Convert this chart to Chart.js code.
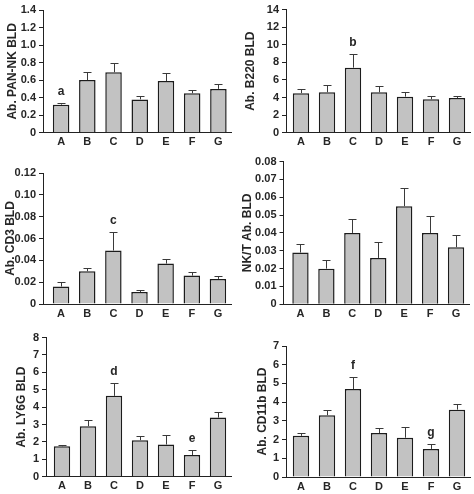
<!DOCTYPE html>
<html>
<head>
<meta charset="utf-8">
<script src="https://cdn.jsdelivr.net/npm/chart.js@4/dist/chart.umd.min.js"></script>
<style>
	body { margin: 0; background: #fff; }
	#wrap { position: relative; width: 474px; height: 494px; overflow: hidden; }
	canvas { position: absolute; }
</style>
</head>
<body>
<div id="wrap"></div>
<script>
const groups = ['A', 'B', 'C', 'D', 'E', 'F', 'G'];

const panNkMean = [0.32, 0.6, 0.69, 0.38, 0.59, 0.45, 0.5];
const panNkTop = [0.34, 0.69, 0.8, 0.42, 0.68, 0.49, 0.55];
const panNkLetters = ['a', '', '', '', '', '', ''];
const panNkTicks = ['0', '0.2', '0.4', '0.6', '0.8', '1.0', '1.2', '1.4'];

const b220Mean = [4.5, 4.6, 7.4, 4.6, 4.1, 3.8, 3.95];
const b220Top = [4.95, 5.4, 8.9, 5.3, 4.6, 4.15, 4.15];
const b220Letters = ['', '', 'b', '', '', '', ''];
const b220Ticks = ['0', '2', '4', '6', '8', '10', '12', '14'];

const cd3Mean = [0.016, 0.03, 0.049, 0.011, 0.037, 0.026, 0.023];
const cd3Top = [0.02, 0.033, 0.066, 0.013, 0.041, 0.029, 0.026];
const cd3Letters = ['', '', 'c', '', '', '', ''];
const cd3Ticks = ['0', '0.02', '0.04', '0.06', '0.08', '0.10', '0.12'];

const nktMean = [0.029, 0.02, 0.04, 0.026, 0.055, 0.04, 0.032];
const nktTop = [0.034, 0.025, 0.048, 0.035, 0.065, 0.0495, 0.039];
const nktLetters = ['', '', '', '', '', '', ''];
const nktTicks = ['0', '0.01', '0.02', '0.03', '0.04', '0.05', '0.06', '0.07', '0.08'];

const ly6gMean = [1.75, 2.9, 4.65, 2.1, 1.85, 1.25, 3.4];
const ly6gTop = [1.85, 3.25, 5.4, 2.35, 2.4, 1.55, 3.7];
const ly6gLetters = ['', '', 'd', '', '', 'e', ''];
const ly6gTicks = ['0', '1', '2', '3', '4', '5', '6', '7', '8'];

const cd11bMean = [2.2, 3.3, 4.7, 2.35, 2.1, 1.5, 3.6];
const cd11bTop = [2.35, 3.6, 5.35, 2.6, 2.65, 1.75, 3.9];
const cd11bLetters = ['', '', 'f', '', '', 'g', ''];
const cd11bTicks = ['0', '1', '2', '3', '4', '5', '6', '7'];

const FONT = "'Liberation Sans', Arial, sans-serif";
const INK = '#262626';

// the bars start a few px right of the y axis line
const shiftCategories = {
	id: 'shiftCategories',
	afterLayout(chart) {
		const x = chart.scales.x;
		const d = chart.options.plugins.shiftCategories.gap;
		x._startPixel += d;
		x._length -= d;
	},
};

const errorBars = {
	id: 'errorBars',
	afterDatasetsDraw(chart) {
		const { ctx } = chart;
		const opts = chart.options.plugins.errorBars;
		const meta = chart.getDatasetMeta(0);
		const y = chart.scales.y;
		ctx.save();
		ctx.strokeStyle = '#3a3a3a';
		ctx.lineWidth = 1;
		meta.data.forEach((bar, i) => {
			const yTop = y.getPixelForValue(opts.tops[i]);
			const yMean = y.getPixelForValue(chart.data.datasets[0].data[i]);
			const x = Math.round(bar.x) + 0.5;
			ctx.beginPath();
			ctx.moveTo(x, yMean);
			ctx.lineTo(x, Math.round(yTop) + 0.5);
			ctx.moveTo(x - 4, Math.round(yTop) + 0.5);
			ctx.lineTo(x + 4, Math.round(yTop) + 0.5);
			ctx.stroke();
			if (opts.letters[i]) {
				ctx.fillStyle = INK;
				ctx.font = `bold 12px ${FONT}`;
				ctx.textAlign = 'center';
				ctx.textBaseline = 'alphabetic';
				ctx.fillText(opts.letters[i], bar.x, yTop - 8);
			}
		});
		ctx.restore();
	},
};

// box = canvas rect on the page, area = plot area on the page
const makePanel = (box, area, title, mean, tops, letters, ticks, max, step) => {
	const canvas = document.createElement('canvas');
	canvas.width = box.w;
	canvas.height = box.h;
	canvas.style.left = box.x + 'px';
	canvas.style.top = box.y + 'px';
	document.getElementById('wrap').appendChild(canvas);

	const yWidth = area.left - box.x;
	const xHeight = box.y + box.h - area.bottom;

	new Chart(canvas.getContext('2d'), {
		type: 'bar',
		data: {
			labels: groups,
			datasets: [
				{
					data: mean,
					backgroundColor: '#c2c2c2',
					borderColor: '#1c1c1c',
					borderWidth: 1.5,
					barPercentage: 0.63,
					categoryPercentage: 1,
				},
			],
		},
		options: {
			responsive: false,
			animation: false,
			events: [],
			layout: {
				padding: {
					top: area.top - box.y,
					right: box.x + box.w - area.right,
					left: 0,
					bottom: 0,
				},
			},
			plugins: {
				legend: { display: false },
				tooltip: { enabled: false },
				errorBars: { tops, letters },
				shiftCategories: { gap: area.gap },
			},
			scales: {
				x: {
					grid: { display: false, drawTicks: false, tickLength: 0 },
					border: { display: true, color: '#222', width: 1 },
					ticks: { color: INK, font: { family: FONT, size: 11, weight: 'bold' }, padding: 3 },
					afterFit: (scale) => {
						scale.height = xHeight;
					},
				},
				y: {
					min: 0,
					max,
					grid: { drawOnChartArea: false, drawTicks: true, tickLength: 4, color: '#222' },
					border: { display: true, color: '#222', width: 1 },
					ticks: {
						stepSize: step,
						color: INK,
						font: { family: FONT, size: 11, weight: 'bold' },
						padding: 3,
						callback: (value, index) => ticks[index],
					},
					title: {
						display: true,
						text: title,
						color: INK,
						font: { family: FONT, size: 12, weight: 'bold' },
						padding: { top: area.titlePad, bottom: 0 },
					},
					afterFit: (scale) => {
						scale.width = yWidth;
					},
				},
			},
		},
		plugins: [shiftCategories, errorBars],
	});
};

makePanel({ x: 0, y: 0, w: 237, h: 158 }, { left: 43, right: 231.5, top: 10, bottom: 132.7, gap: 5, titlePad: 5 },
	'Ab. PAN-NK BLD', panNkMean, panNkTop, panNkLetters, panNkTicks, 1.4, 0.2);
makePanel({ x: 237, y: 0, w: 237, h: 158 }, { left: 286, right: 470, top: 9, bottom: 132.7, gap: 2, titlePad: 6 },
	'Ab. B220 BLD', b220Mean, b220Top, b220Letters, b220Ticks, 14, 2);
makePanel({ x: 0, y: 158, w: 237, h: 170 }, { left: 43, right: 231, top: 173, bottom: 304, gap: 5, titlePad: 3 },
	'Ab. CD3 BLD', cd3Mean, cd3Top, cd3Letters, cd3Ticks, 0.12, 0.02);
makePanel({ x: 237, y: 152, w: 237, h: 176 }, { left: 283.5, right: 469, top: 161, bottom: 304.3, gap: 4, titlePad: 3 },
	'NK/T Ab. BLD', nktMean, nktTop, nktLetters, nktTicks, 0.08, 0.01);
makePanel({ x: 0, y: 328, w: 237, h: 166 }, { left: 46, right: 231, top: 336.7, bottom: 476.7, gap: 3, titlePad: 14 },
	'Ab. LY6G BLD', ly6gMean, ly6gTop, ly6gLetters, ly6gTicks, 8, 1);
makePanel({ x: 237, y: 328, w: 237, h: 166 }, { left: 286, right: 470, top: 346, bottom: 477, gap: 2, titlePad: 18 },
	'Ab. CD11b BLD', cd11bMean, cd11bTop, cd11bLetters, cd11bTicks, 7, 1);
</script>
</body>
</html>
